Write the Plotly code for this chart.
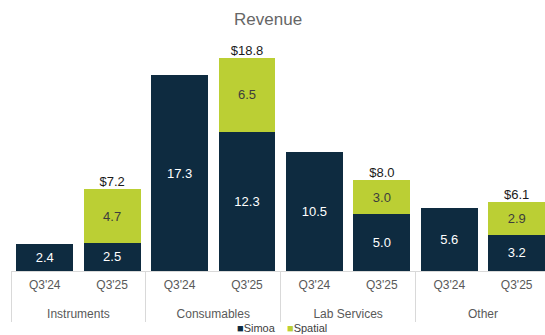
import plotly.graph_objects as go

groups = ["Instruments", "Instruments", "Consumables", "Consumables",
          "Lab Services", "Lab Services", "Other", "Other"]
quarters = ["Q3'24", "Q3'25"] * 4
simoa = [2.4, 2.5, 17.3, 12.3, 10.5, 5.0, 5.6, 3.2]
spatial = [None, 4.7, None, 6.5, None, 3.0, None, 2.9]
totals = [None, 7.2, None, 18.8, None, 8.0, None, 6.1]
series_names = ["Simoa", "Spatial"]

NAVY = "#0E2B40"
LIME = "#BBCF34"
FONT = "Liberation Sans, Arial, sans-serif"

# trailing blank line adds vertical room between the two label rows
x = [groups, [q + "<br> " for q in quarters]]

fig = go.Figure()
fig.add_trace(go.Bar(
    x=x, y=simoa, name=series_names[0], marker_color=NAVY, marker_line_width=0,
    texttemplate="%{y:.1f}", textposition="inside", insidetextanchor="middle",
    textfont=dict(color="white", size=13, family=FONT),
))
fig.add_trace(go.Bar(
    x=x, y=spatial, name=series_names[1], marker_color=LIME, marker_line_width=0,
    texttemplate="%{y:.1f}", textposition="inside", insidetextanchor="middle",
    textfont=dict(color="#3d3d3d", size=13, family=FONT),
))
fig.add_trace(go.Scatter(
    x=x, y=totals, mode="text",
    text=[f"${v:.1f}" if v is not None else "" for v in totals],
    textposition="top center",
    textfont=dict(color="#1a1a1a", size=13, family=FONT),
    hoverinfo="skip",
))

# legend as two annotations
for n, c, xpos in zip(series_names, [NAVY, LIME], [0.459, 0.554]):
    fig.add_annotation(
        text=f"<span style='color:{c}'>■</span>{n}", xref="paper", yref="paper",
        x=xpos, y=-0.247, xanchor="center", yanchor="middle", showarrow=False,
        font=dict(size=11, color="#404040", family=FONT),
    )

fig.update_layout(
    width=545, height=335,
    margin=dict(l=11, r=0, t=40, b=64),
    barmode="stack", bargap=0.155, showlegend=False,
    plot_bgcolor="white", paper_bgcolor="white",
    font=dict(family=FONT, color="#595959", size=12),
    title=dict(text="Revenue", x=0.492, xanchor="center", y=0.943, yanchor="middle",
               font=dict(size=17, color="#666666", family=FONT)),
    xaxis=dict(
        type="multicategory", range=[-0.5, 7.42],
        showline=True, linecolor="#d9d9d9", linewidth=1,
        showdividers=True, dividercolor="#d9d9d9", dividerwidth=1,
        tickfont=dict(size=12, color="#595959", family=FONT),
        ticklabelstandoff=3,
        ticks="", showgrid=False,
    ),
    yaxis=dict(range=[0, 20.39], visible=False, showgrid=False, zeroline=False),
)

fig.write_html("out.html")
